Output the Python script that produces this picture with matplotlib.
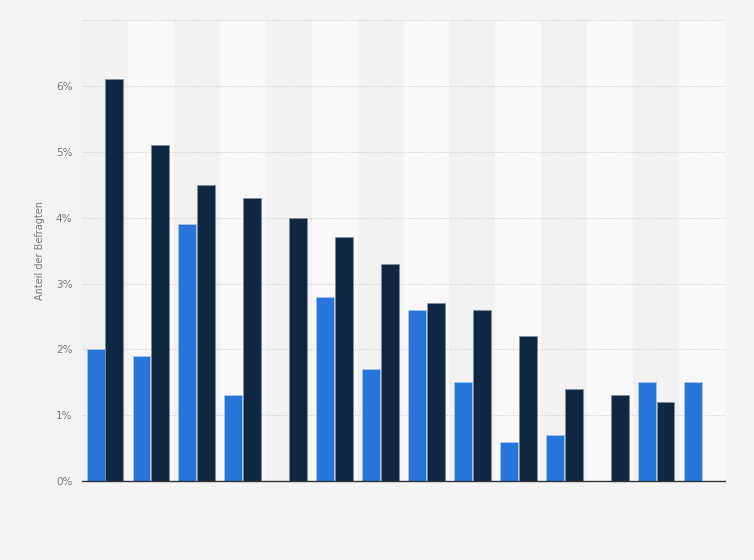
import numpy as np
import matplotlib.pyplot as plt

# Werte (in %), 14 Kategorien, zwei Serien; None = kein Balken
blue_vals = [2.0, 1.9, 3.9, 1.3, None, 2.8, 1.7, 2.6, 1.5, 0.6, 0.7, None, 1.5, 1.5]
navy_vals = [6.1, 5.1, 4.5, 4.3, 4.0, 3.7, 3.3, 2.7, 2.6, 2.2, 1.4, 1.3, 1.2, None]
y_ticks = [0, 1, 2, 3, 4, 5, 6, 7]
y_labels = ['0%', '1%', '2%', '3%', '4%', '5%', '6%', '']

fig = plt.figure(figsize=(7.54, 5.6), dpi=100, facecolor='#f4f4f4')
ax = fig.add_axes([0.1088, 0.141, 0.8527, 0.823])
ax.set_facecolor('#f4f4f4')

n = len(navy_vals)
x = np.arange(n)
w = 0.39

# abwechselnde Hintergrundstreifen
for i in range(n):
    col = '#f2f2f2' if i % 2 == 0 else '#f8f8f8'
    ax.axvspan(i - 0.5, i + 0.5, color=col, zorder=0, lw=0)

bx = [xi for xi, v in zip(x, blue_vals) if v is not None]
bv = [v for v in blue_vals if v is not None]
nx = [xi for xi, v in zip(x, navy_vals) if v is not None]
nv = [v for v in navy_vals if v is not None]

ax.bar(np.array(bx) - w / 2 - 0.01, bv, width=w, color='#2775d9',
       edgecolor='#a8c8ef', linewidth=0.5, zorder=3)
ax.bar(np.array(nx) + w / 2 + 0.01, nv, width=w, color='#0f2740',
       edgecolor='#7f8fa0', linewidth=0.5, zorder=3)

ax.set_xlim(-0.5, n - 0.5)
ax.set_ylim(0, 7)
ax.set_yticks(y_ticks)
ax.set_yticklabels(y_labels)
ax.set_xticks([])
ax.yaxis.grid(True, linestyle=(0, (1, 1.5)), color='#cccccc', linewidth=0.7, zorder=1)
ax.set_axisbelow(True)

for s in ['top', 'right', 'left']:
    ax.spines[s].set_visible(False)
ax.spines['bottom'].set_color('#333333')
ax.spines['bottom'].set_linewidth(1.0)
ax.spines['bottom'].set_zorder(4)

ax.tick_params(axis='y', length=0, pad=7, labelsize=7.5, labelcolor='#777777')
ax.set_ylabel('Anteil der Befragten', fontsize=7, color='#777777', labelpad=8)

fig.savefig('out.png', dpi=100, facecolor=fig.get_facecolor())
